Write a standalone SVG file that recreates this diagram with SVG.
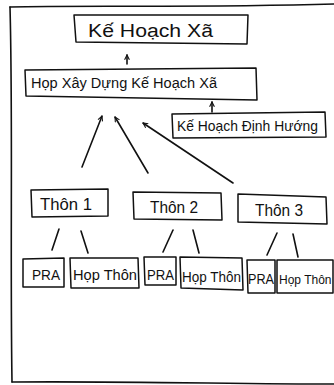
<svg xmlns="http://www.w3.org/2000/svg" width="334" height="385" viewBox="0 0 334 385">
<defs>
<style>
.b{fill:#fff;stroke:#111;stroke-width:1.5;stroke-linejoin:round}
.t{font-family:"Liberation Sans","DejaVu Sans",sans-serif;fill:#111}
.c{stroke:#111;stroke-width:1.6;fill:none;stroke-linecap:round}
</style>
<marker id="ah" viewBox="0 0 10 10" refX="9" refY="5" markerWidth="6" markerHeight="6" orient="auto" markerUnits="userSpaceOnUse">
<path d="M1,1 L9,5 L1,9" fill="none" stroke="#111" stroke-width="1.8"/>
</marker>
</defs>
<rect width="334" height="385" fill="#fff"/>
<g id="frame">
<path d="M10,7 C80,5 200,8 334,4" class="c"/>
<path d="M10,7 C13,120 10,250 12,382" class="c"/>
<path d="M12,382 C120,381 240,384 334,384" class="c" stroke="#444"/>
</g>
<g id="connectors">
<line x1="127" y1="64" x2="127" y2="55" class="c" marker-end="url(#ah)"/>
<line x1="212" y1="112" x2="212" y2="102" class="c" marker-end="url(#ah)"/>
<line x1="82" y1="167" x2="102" y2="116" class="c" marker-end="url(#ah)"/>
<line x1="148" y1="173" x2="115" y2="117" class="c" marker-end="url(#ah)"/>
<line x1="233" y1="183" x2="143" y2="123" class="c" marker-end="url(#ah)"/>
<line x1="59" y1="229" x2="52" y2="250" class="c"/>
<line x1="81" y1="231" x2="88" y2="253" class="c"/>
<line x1="173" y1="230" x2="163" y2="252" class="c"/>
<line x1="193" y1="230" x2="199" y2="253" class="c"/>
<line x1="277" y1="233" x2="267" y2="255" class="c"/>
<line x1="293" y1="234" x2="298" y2="257" class="c"/>
</g>
<g id="n-kehoachxa">
<path class="b" d="M74,15 L248,15 L247,44 L76,42 Z"/>
<text class="t" x="88" y="37" font-size="18" textLength="125" lengthAdjust="spacingAndGlyphs">Kế Hoạch Xã</text>
</g>
<g id="n-hopxaydung">
<path class="b" d="M25,70 L256,68 L257,100 L26,96 Z"/>
<text class="t" x="31" y="88" font-size="14" textLength="186" lengthAdjust="spacingAndGlyphs">Họp Xây Dựng Kế Hoạch Xã</text>
</g>
<g id="n-dinhhuong">
<path class="b" d="M172,114 L325,112 L326,137 L173,138 Z"/>
<text class="t" x="177" y="131" font-size="15" textLength="141" lengthAdjust="spacingAndGlyphs">Kế Hoạch Định Hướng</text>
</g>
<g id="n-thon1">
<path class="b" d="M31,190 L108,189 L108,216 L32,217 Z"/>
<text class="t" x="40" y="210" font-size="17" textLength="52" lengthAdjust="spacingAndGlyphs">Thôn 1</text>
</g>
<g id="n-thon2">
<path class="b" d="M133,192 L221,193 L222,220 L134,219 Z"/>
<text class="t" x="150" y="213" font-size="17" textLength="48" lengthAdjust="spacingAndGlyphs">Thôn 2</text>
</g>
<g id="n-thon3">
<path class="b" d="M238,194 L326,197 L327,224 L238,222 Z"/>
<text class="t" x="255" y="216" font-size="17" textLength="48" lengthAdjust="spacingAndGlyphs">Thôn 3</text>
</g>
<g id="n-pra1">
<path class="b" d="M23,259 L64,258 L64,287 L23,287 Z"/>
<text class="t" x="32" y="280" font-size="15" textLength="28" lengthAdjust="spacingAndGlyphs">PRA</text>
</g>
<g id="n-hopthon1">
<path class="b" d="M70,258 L138,258 L139,288 L71,288 Z"/>
<text class="t" x="73" y="280" font-size="15" textLength="64" lengthAdjust="spacingAndGlyphs">Họp Thôn</text>
</g>
<g id="n-pra2">
<path class="b" d="M144,257 L176,257 L176,285 L145,285 Z"/>
<text class="t" x="147" y="280" font-size="15" textLength="27" lengthAdjust="spacingAndGlyphs">PRA</text>
</g>
<g id="n-hopthon2">
<path class="b" d="M180,257 L242,258 L243,290 L181,288 Z"/>
<text class="t" x="182" y="282" font-size="15" textLength="59" lengthAdjust="spacingAndGlyphs">Họp Thôn</text>
</g>
<g id="n-pra3">
<path class="b" d="M247,260 L275,260 L275,293 L248,293 Z"/>
<text class="t" x="248" y="284" font-size="14" textLength="26" lengthAdjust="spacingAndGlyphs">PRA</text>
</g>
<g id="n-hopthon3">
<path class="b" d="M277,260 L333,260 L333,293 L277,293 Z"/>
<text class="t" x="279" y="284" font-size="12">Họp Thôn</text>
</g>
</svg>
